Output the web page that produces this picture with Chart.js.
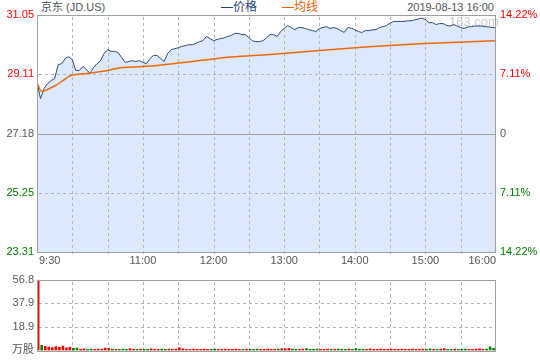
<!DOCTYPE html>
<html>
<head>
<meta charset="utf-8">
<script src="https://cdn.jsdelivr.net/npm/chart.js@4"></script>
<style>
  body { margin: 0; width: 540px; height: 360px; background: #fff; position: relative; overflow: hidden;
         font-family: "Liberation Sans", Arial, "Noto Sans CJK SC", sans-serif; font-size: 11px; }
  .t { position: absolute; top: 0; line-height: 14px; white-space: nowrap; }
  #priceChart { position: absolute; left: 0; top: 0; }
  #volChart { position: absolute; left: 0; top: 270px; }
</style>
</head>
<body>
<div class="t" style="left:41px;color:#555">京东 (JD.US)</div>
<div class="t" style="left:221px;color:#24457e;font-size:12px">—价格</div>
<div class="t" style="left:282px;color:#f06000;font-size:12px">—均线</div>
<div class="t" style="right:46px;color:#555">2019-08-13 16:00</div>
<canvas id="priceChart" width="540" height="270"></canvas>
<canvas id="volChart" width="540" height="90"></canvas>
<script>
// axis ticks
const priceTicks = [23.31, 25.25, 27.18, 29.11, 31.05];
const pctTicks = [-14.22, -7.11, 0, 7.11, 14.22];
const tickColors = ['#008000', '#008000', '#555555', '#ff0000', '#ff0000'];
const prevClose = 27.18;
const volTicks = [0, 18.9, 37.9, 56.8];
const gridMinutes = [30, 60, 90, 120, 150, 180, 210, 240, 270, 300, 330, 360];
const xLabelMinutes = [0, 90, 150, 210, 270, 330, 390];
const xLabels = ['9:30', '11:00', '12:00', '13:00', '14:00', '15:00', '16:00'];

// one price every 3 minutes from 9:30
const STEP = 3;
const price = [
  28.84, 28.32, 28.65, 28.81, 28.91, 28.97, 29.43, 29.46, 29.63, 29.69,
  29.59, 29.24, 29.24, 29.37, 29.27, 29.14, 29.33, 29.46, 29.56, 29.79,
  29.92, 29.86, 29.86, 29.82, 29.66, 29.50, 29.53, 29.56, 29.53, 29.56,
  29.50, 29.46, 29.63, 29.73, 29.73, 29.63, 29.53, 29.79, 29.92, 29.95,
  29.98, 30.02, 30.05, 30.08, 30.08, 30.12, 30.18, 30.21, 30.35, 30.28,
  30.21, 30.25, 30.28, 30.30, 30.35, 30.38, 30.45, 30.45, 30.41, 30.41,
  30.31, 30.21, 30.18, 30.18, 30.21, 30.31, 30.41, 30.41, 30.35, 30.51,
  30.61, 30.71, 30.64, 30.57, 30.64, 30.64, 30.61, 30.57, 30.54, 30.51,
  30.61, 30.64, 30.67, 30.61, 30.64, 30.61, 30.54, 30.48, 30.64, 30.62,
  30.57, 30.51, 30.48, 30.54, 30.54, 30.57, 30.57, 30.64, 30.67, 30.71,
  30.78, 30.84, 30.84, 30.84, 30.84, 30.86, 30.86, 30.89, 30.92, 30.95,
  30.90, 30.80, 30.80, 30.74, 30.77, 30.77, 30.71, 30.69, 30.74, 30.69,
  30.64, 30.61, 30.66, 30.67, 30.69, 30.69, 30.69, 30.67, 30.66, 30.64, 30.64
];

// average price line
const avgMinutes = [0, 4, 10, 16, 22, 28, 34, 42, 50, 60, 70, 80, 90, 100, 120, 140, 165, 198, 240, 282, 325, 368, 390];
const avgPrice = [28.84, 28.55, 28.64, 28.75, 28.91, 29.06, 29.11, 29.14, 29.18, 29.24, 29.32, 29.35, 29.37,
                  29.39, 29.48, 29.57, 29.68, 29.76, 29.89, 30.01, 30.11, 30.18, 30.21];

// volume (万股), same 3 minute steps, bar sits 1 minute into its slot
const VOL_SHIFT = 1;
const volume = [
  56.5, 4.0, 3.2, 2.6, 2.2, 3.0, 2.4, 3.4, 2.0, 2.6,
  1.6, 1.8, 1.0, 1.2, 0.9, 1.0, 0.8, 1.1, 0.9, 1.8,
  1.7, 1.0, 0.8, 0.9, 1.0, 0.8, 1.5, 0.9, 0.8, 1.0,
  0.9, 0.8, 1.3, 0.9, 0.8, 1.0, 0.9, 1.0, 0.8, 1.1,
  2.0, 1.2, 0.9, 0.8, 1.0, 0.9, 0.8, 1.0, 0.9, 0.8,
  1.0, 0.8, 0.9, 1.0, 0.8, 0.9, 1.1, 0.8, 0.9, 1.0,
  0.8, 0.9, 1.0, 0.8, 0.9, 1.0, 0.8, 0.9, 1.0, 1.5,
  1.2, 1.6, 1.0, 0.9, 0.8, 1.0, 1.5, 0.9, 0.8, 1.0,
  0.9, 0.8, 1.0, 0.9, 0.8, 1.0, 0.9, 0.8, 1.0, 0.9,
  1.5, 1.0, 0.8, 0.9, 1.2, 0.8, 0.9, 1.0, 0.8, 0.9,
  1.0, 0.8, 0.9, 1.0, 0.8, 0.9, 1.0, 0.8, 0.9, 1.0,
  0.8, 1.3, 0.9, 0.8, 1.0, 1.5, 0.9, 0.8, 1.0, 0.9,
  0.8, 1.0, 0.9, 0.8, 1.0, 1.2, 0.9, 1.0, 2.8, 1.6, 1.2
];

Chart.defaults.font.family = '"Liberation Sans", Arial, "Noto Sans CJK SC", sans-serif';
Chart.defaults.font.size = 11;

const pricePts = price.map((v, i) => ({ x: i * STEP, y: v }));
const avgPts = avgMinutes.map((m, i) => ({ x: m, y: avgPrice[i] }));
const volPts = volume.map((v, i) => ({ x: i * STEP + VOL_SHIFT, y: v }));
const volColors = price.map((v, i) => (i === 0 || v >= price[i - 1]) ? '#ff0000' : '#008000');

const GRID = '#b4b4b4';
const FRAME = '#a0a0a0';

function xScale(height) {
  return {
    type: 'linear', min: 0, max: 390, offset: false,
    afterFit: s => { s.height = height; },
    grid: { display: false, offset: false, drawTicks: false },
    border: { display: false },
    ticks: { display: false }
  };
}

// dashed grid (3 on / 3 off), drawn as small rects
function drawGrid(chart, yTicks) {
  const ctx = chart.ctx, a = chart.chartArea, sx = chart.scales.x, sy = chart.scales.y;
  const L = Math.round(a.left), R = Math.round(a.right), T = Math.round(a.top), B = Math.round(a.bottom);
  ctx.save();
  ctx.globalAlpha = 1;
  ctx.fillStyle = GRID;
  for (const m of gridMinutes) {
    const x = Math.round(sx.getPixelForValue(m));
    for (let y = T + 2; y < B; y += 6) ctx.fillRect(x, y, 1, 3);
  }
  for (const v of yTicks) {
    const y = Math.round(sy.getPixelForValue(v));
    if (y <= T + 1 || y >= B - 1) continue;
    for (let x = L + 2; x < R - 1; x += 6) ctx.fillRect(x, y, 3, 1);
  }
  ctx.restore();
}

function drawFrame(chart) {
  const { ctx, chartArea: a } = chart;
  ctx.save();
  ctx.strokeStyle = FRAME;
  ctx.lineWidth = 1;
  ctx.strokeRect(Math.round(a.left) + 0.5, Math.round(a.top) + 0.5,
                 Math.round(a.right - a.left) - 1, Math.round(a.bottom - a.top));
  ctx.restore();
}

const priceDeco = {
  id: 'priceDeco',
  beforeDatasetsDraw(chart) {
    const { ctx, chartArea: a, scales } = chart;
    drawGrid(chart, priceTicks);
    const y0 = Math.round(scales.y.getPixelForValue(prevClose));
    ctx.save();
    ctx.fillStyle = FRAME;
    ctx.fillRect(Math.round(a.left), y0, Math.round(a.right - a.left), 1);
    ctx.fillStyle = '#cfcfcf';
    ctx.font = '13px "Liberation Sans", Arial, sans-serif';
    ctx.textBaseline = 'middle';
    ctx.fillText('163.com', 449, 22);
    ctx.restore();
  },
  afterDraw(chart) {
    const { ctx, chartArea: a, scales } = chart;
    drawFrame(chart);
    ctx.save();
    ctx.fillStyle = '#555';
    ctx.font = '11px "Liberation Sans", Arial, sans-serif';
    ctx.textBaseline = 'middle';
    xLabelMinutes.forEach((m, i) => {
      let x = scales.x.getPixelForValue(m);
      if (i === 0) { ctx.textAlign = 'left'; x += 2; }
      else if (i === xLabels.length - 1) { ctx.textAlign = 'right'; }
      else ctx.textAlign = 'center';
      ctx.fillText(xLabels[i], x, a.bottom + 9);
    });
    ctx.restore();
  }
};

const volDeco = {
  id: 'volDeco',
  beforeDatasetsDraw(chart) { drawGrid(chart, volTicks); },
  afterDraw(chart) { drawFrame(chart); }
};

new Chart(document.getElementById('priceChart'), {
  type: 'line',
  data: {
    datasets: [
      { data: avgPts, borderColor: '#f0680c', borderWidth: 1.5, pointRadius: 0, fill: false,
        cubicInterpolationMode: 'monotone', order: 0 },
      { data: pricePts, borderColor: '#2b4c7e', borderWidth: 1, pointRadius: 0, tension: 0,
        fill: 'start', backgroundColor: '#dce8fb', order: 1 }
    ]
  },
  options: {
    responsive: false, animation: false, events: [],
    layout: { padding: { top: 15, right: 0, bottom: 0, left: 0 }, autoPadding: false },
    plugins: { legend: { display: false }, tooltip: { enabled: false }, filler: { drawTime: 'beforeDraw' } },
    scales: {
      x: xScale(18),
      y: {
        position: 'left', min: 23.31, max: 31.05,
        afterBuildTicks: s => { s.ticks = priceTicks.map(v => ({ value: v })); },
        afterFit: s => { s.width = 37; },
        grid: { display: false, drawTicks: false },
        border: { display: false },
        ticks: { padding: 3, color: c => tickColors[c.index], callback: v => v.toFixed(2) }
      },
      pct: {
        position: 'right', min: -14.22, max: 14.22,
        afterBuildTicks: s => { s.ticks = pctTicks.map(v => ({ value: v })); },
        afterFit: s => { s.width = 44; },
        grid: { display: false, drawTicks: false },
        border: { display: false },
        ticks: { padding: 4, color: c => tickColors[c.index],
                 callback: v => v === 0 ? '0' : Math.abs(v).toFixed(2) + '%' }
      }
    }
  },
  plugins: [priceDeco]
});

new Chart(document.getElementById('volChart'), {
  type: 'bar',
  data: {
    datasets: [{ data: volPts, backgroundColor: volColors, borderWidth: 0, barThickness: 2, grouped: false }]
  },
  options: {
    responsive: false, animation: false, events: [],
    layout: { padding: { top: 4.3, right: 44, bottom: 8.7, left: 0 }, autoPadding: false },
    plugins: { legend: { display: false }, tooltip: { enabled: false } },
    scales: {
      x: xScale(0),
      y: {
        min: 0, max: 56.8,
        afterBuildTicks: s => { s.ticks = volTicks.map(v => ({ value: v })); },
        afterFit: s => { s.width = 37; },
        grid: { display: false, drawTicks: false },
        border: { display: false },
        ticks: { padding: 3, color: '#555', callback: v => v === 0 ? '万股' : v.toFixed(1) }
      }
    }
  },
  plugins: [volDeco]
});
</script>
</body>
</html>
